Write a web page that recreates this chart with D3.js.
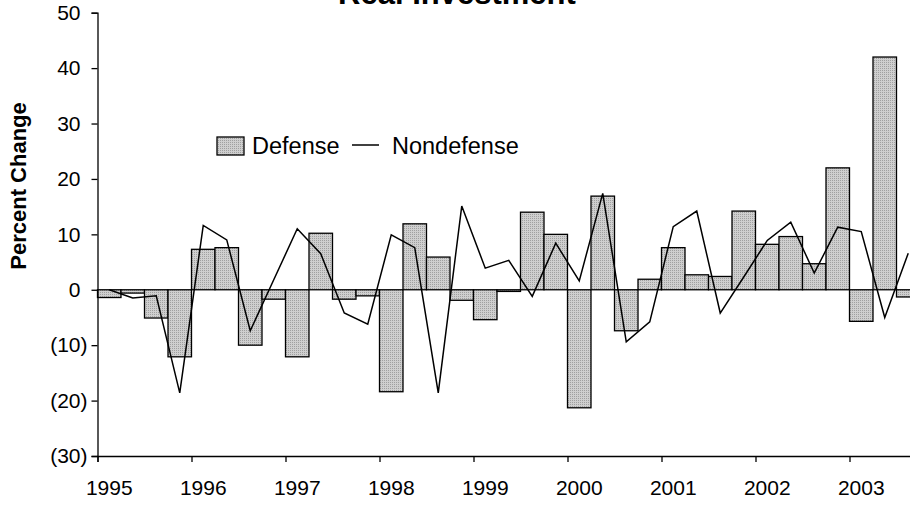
<!DOCTYPE html>
<html>
<head>
<meta charset="utf-8">
<script src="https://cdn.jsdelivr.net/npm/d3@7"></script>
<style>
  body { margin: 0; background: #fff; }
  svg { display: block; font-family: Arial, "Liberation Sans", sans-serif; }
</style>
</head>
<body>
<svg id="chart" width="910" height="510"></svg>
<script>
// quarterly percent change, 1995Q1 .. 2003Q3
const years = [1995, 1996, 1997, 1998, 1999, 2000, 2001, 2002, 2003];
const defense = [-1.4, -0.6, -5.1, -12.1, 7.3, 7.6, -10.0, -1.7, -12.1, 10.2, -1.7, -1.1,
  -18.4, 11.9, 5.9, -1.9, -5.4, -0.3, 14.0, 10.0, -21.3, 16.9, -7.4, 1.9,
  7.6, 2.7, 2.4, 14.2, 8.2, 9.6, 4.7, 22.0, -5.7, 42.0, -1.3];
const nondefense = [0.0, -1.5, -1.1, -18.6, 11.6, 9.0, -7.4, 1.8, 11.0, 6.5, -4.2, -6.2,
  9.9, 7.6, -18.6, 15.1, 3.9, 5.3, -1.2, 8.4, 1.6, 17.4, -9.4, -5.8,
  11.4, 14.2, -4.2, 2.3, 8.9, 12.2, 3.0, 11.3, 10.5, -5.0, 6.6];
const yTicks = [-30, -20, -10, 0, 10, 20, 30, 40, 50];

const svg = d3.select('#chart');
const left = 97.5, qw = 23.5;

const x = d3.scaleLinear().domain([0, 36]).range([left, left + 36 * qw]);
const y = d3.scaleLinear().domain([-30, 50]).range([456, 12.7]);

const fmt = v => v < 0 ? `(${Math.abs(v)})` : `${v}`;

// bar fill: fine dotted grey like the original
const defs = svg.append('defs');
const pat = defs.append('pattern').attr('id', 'dots').attr('patternUnits', 'userSpaceOnUse')
  .attr('width', 2).attr('height', 2);
pat.append('rect').attr('width', 2).attr('height', 2).attr('fill', '#cfcfcf');
pat.append('rect').attr('width', 1).attr('height', 1).attr('fill', '#a0a0a0');

// title (cut off at the top in the source)
svg.append('text').attr('x', 457).attr('y', 4).attr('text-anchor', 'middle')
  .style('font-weight', 'bold').style('font-size', '31px').text('Real Investment');

// bars
svg.append('g').selectAll('rect').data(defense).enter().append('rect')
  .attr('x', (d, i) => x(i))
  .attr('width', qw)
  .attr('y', d => y(Math.max(0, d)))
  .attr('height', d => Math.abs(y(d) - y(0)))
  .attr('fill', 'url(#dots)')
  .attr('stroke', '#000').attr('stroke-width', 1.3);

// nondefense line
const line = d3.line().x((d, i) => x(i + 0.5)).y(d => y(d));
svg.append('path').datum(nondefense).attr('d', line)
  .attr('fill', 'none').attr('stroke', '#000').attr('stroke-width', 1.5);

// y axis
const yAxis = svg.append('g').attr('transform', `translate(${left},0)`)
  .call(d3.axisLeft(y).tickValues(yTicks).tickSize(6).tickFormat(fmt));
yAxis.select('.domain').attr('stroke-width', 1.3);
yAxis.selectAll('.tick line').attr('stroke-width', 1.3);
yAxis.selectAll('.tick text').style('font-size', '21px').attr('fill', '#000')
  .attr('x', d => d < 0 ? -10 : -17);

// x axis at the bottom: ticks on year boundaries, labels under first quarter
const xAxis = svg.append('g').attr('transform', `translate(0,${y(-30)})`)
  .call(d3.axisBottom(x).tickValues(d3.range(0, 37, 4)).tickSize(6).tickFormat(''));
xAxis.select('.domain').attr('stroke-width', 1.3);
xAxis.selectAll('.tick line').attr('stroke-width', 1.3);
svg.append('g').selectAll('text').data(years).enter().append('text')
  .attr('x', (d, i) => x(i * 4 + 0.5)).attr('y', 495)
  .attr('text-anchor', 'middle').style('font-size', '21px').text(d => d);

// y title
svg.append('text').attr('transform', 'translate(26,186) rotate(-90)')
  .attr('text-anchor', 'middle').style('font-weight', 'bold').style('font-size', '22px')
  .text('Percent Change');

// legend
const lg = svg.append('g');
lg.append('rect').attr('x', 217).attr('y', 137).attr('width', 27).attr('height', 18)
  .attr('fill', 'url(#dots)').attr('stroke', '#000').attr('stroke-width', 1.3);
lg.append('text').attr('x', 252).attr('y', 154).style('font-size', '23.5px').text('Defense');
lg.append('line').attr('x1', 352).attr('x2', 379).attr('y1', 145).attr('y2', 145)
  .attr('stroke', '#000').attr('stroke-width', 1.5);
lg.append('text').attr('x', 392).attr('y', 154).style('font-size', '23.5px').text('Nondefense');
</script>
</body>
</html>
